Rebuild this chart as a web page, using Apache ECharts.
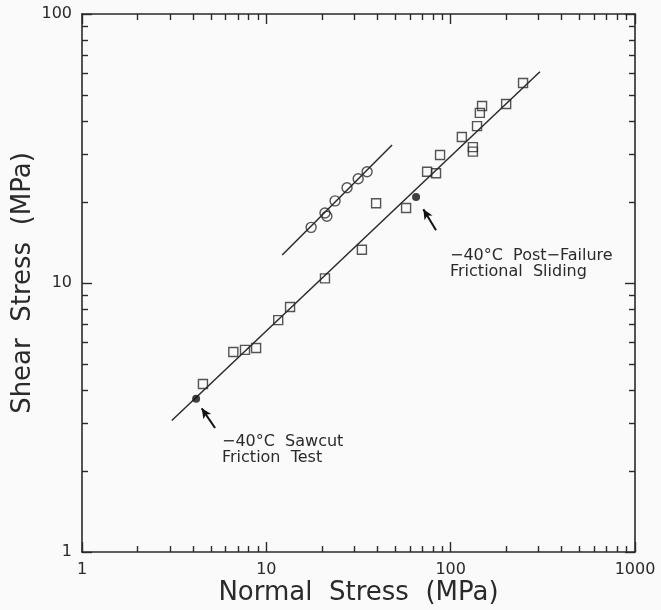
<!DOCTYPE html>
<html>
<head>
<meta charset="utf-8">
<title>Shear stress vs normal stress</title>
<script src="https://cdn.jsdelivr.net/npm/echarts@6/dist/echarts.min.js"></script>
<style>
html, body { margin: 0; padding: 0; background: #f9faf9; }
#main { width: 661px; height: 610px; }
</style>
</head>
<body>
<div id="main"></div>
<script>
// values (MPa)
var squareNormal = [4.53, 6.62, 7.66, 8.80, 11.6, 13.45, 20.8, 33.0, 39.4, 57.3, 74.5, 83.3, 87.6, 115, 132, 132, 139, 144, 148, 200, 247];
var squareShear  = [4.21, 5.54, 5.64, 5.73, 7.28, 8.14, 10.4, 13.3, 19.8, 19.0, 25.9, 25.6, 29.9, 34.9, 32.0, 30.8, 38.3, 42.9, 45.5, 46.3, 55.4];
var circleNormal = [17.5, 20.8, 21.3, 23.6, 27.4, 31.5, 35.2];
var circleShear  = [16.1, 18.2, 17.7, 20.2, 22.6, 24.4, 25.9];
var dotNormal = [4.16, 64.9];   // -40C sawcut, -40C post-failure
var dotShear  = [3.71, 20.9];
// fitted lines, end points
var lowerFitNormal = [3.07, 305];
var lowerFitShear  = [3.08, 61.0];
var upperFitNormal = [12.2, 48.1];
var upperFitShear  = [12.7, 32.6];
// ticks
var xMinorTicks = [2, 3, 4, 5, 6, 7, 8, 9, 20, 30, 40, 50, 60, 70, 80, 90, 200, 300, 400, 500, 600, 700, 800, 900];
var yMinorTicks = [2, 3, 4, 5, 6, 7, 8, 9, 20, 30, 40, 50, 60, 70, 80, 90];

function pairs(xs, ys) {
	var res = [];
	for (var i = 0; i < xs.length; i++) {
		res.push([xs[i], ys[i]]);
	}
	return res;
}

var ink = '#2a2a2a';
var font = 'DejaVu Sans';

// one axis builder, major or minor ticks only
function makeAxis(pos, minV, maxV, minor, ticks, main) {
	var ax = {
		type: 'log',
		logBase: 10,
		min: minV,
		max: maxV,
		position: pos,
		splitLine: { show: false },
		axisLine: { show: !minor, lineStyle: { color: ink, width: 1.6 } },
		axisTick: { show: true, inside: true, length: minor ? 6 : 10, lineStyle: { color: ink, width: 1.4 } },
		axisLabel: { show: false }
	};
	if (minor) {
		ax.axisTick.customValues = ticks;
	}
	if (main) {
		ax.axisLabel = {
			show: true, color: ink, fontFamily: font, fontSize: 16, margin: 10,
			formatter: function (v) { return String(v); }
		};
	}
	return ax;
}

var xAxes = [
	makeAxis('bottom', 1, 1000, false, null, true),
	makeAxis('bottom', 1, 1000, true, xMinorTicks, false),
	makeAxis('top', 1, 1000, false, null, false),
	makeAxis('top', 1, 1000, true, xMinorTicks, false)
];
xAxes[0].name = 'Normal  Stress  (MPa)';
xAxes[0].nameLocation = 'middle';
xAxes[0].nameGap = 28;
xAxes[0].nameMoveOverlap = false;
xAxes[0].nameTextStyle = { color: ink, fontFamily: font, fontSize: 26 };

var yAxes = [
	makeAxis('left', 1, 100, false, null, true),
	makeAxis('left', 1, 100, true, yMinorTicks, false),
	makeAxis('right', 1, 100, false, null, false),
	makeAxis('right', 1, 100, true, yMinorTicks, false)
];
yAxes[0].name = 'Shear  Stress  (MPa)';
yAxes[0].nameLocation = 'middle';
yAxes[0].nameGap = 46;
yAxes[0].nameMoveOverlap = false;
yAxes[0].nameTextStyle = { color: ink, fontFamily: font, fontSize: 26 };

var openStyle = { color: 'rgba(0,0,0,0)', borderColor: ink, borderWidth: 1.4 };

var option = {
	backgroundColor: '#f9faf9',
	animation: false,
	grid: { left: 82, right: 26, top: 14, bottom: 58, outerBoundsMode: 'none', containLabel: false },
	xAxis: xAxes,
	yAxis: yAxes,
	series: [{
		type: 'scatter',
		symbol: 'rect',
		symbolSize: 9,
		itemStyle: openStyle,
		data: pairs(squareNormal, squareShear)
	}, {
		type: 'scatter',
		symbol: 'circle',
		symbolSize: 10,
		itemStyle: openStyle,
		data: pairs(circleNormal, circleShear)
	}, {
		type: 'line',
		symbol: 'none',
		z: 3,
		lineStyle: { color: ink, width: 1.5 },
		data: pairs(lowerFitNormal, lowerFitShear)
	}, {
		type: 'line',
		symbol: 'none',
		z: 3,
		lineStyle: { color: ink, width: 1.5 },
		data: pairs(upperFitNormal, upperFitShear)
	}, {
		type: 'scatter',
		symbol: 'circle',
		symbolSize: 8,
		z: 4,
		itemStyle: { color: '#111' },
		data: pairs(dotNormal, dotShear),
		// arrows pointing at the two filled points
		markLine: {
			silent: true,
			symbol: ['none', 'arrow'],
			symbolSize: [7, 10],
			label: { show: false },
			lineStyle: { color: '#111', width: 2, type: 'solid' },
			data: [
				[{ coord: [5.27, 2.89] }, { coord: [4.46, 3.42] }],
				[{ coord: [83.3, 15.7] }, { coord: [71.1, 18.8] }]
			]
		}
	}],
	graphic: [{
		type: 'text',
		left: 222,
		top: 434,
		style: {
			text: '\u221240\u00b0C  Sawcut\nFriction  Test',
			fill: ink,
			font: '16px "DejaVu Sans"',
			lineHeight: 16
		}
	}, {
		type: 'text',
		left: 450,
		top: 248,
		style: {
			text: '\u221240\u00b0C  Post\u2212Failure\nFrictional  Sliding',
			fill: ink,
			font: '16px "DejaVu Sans"',
			lineHeight: 16
		}
	}]
};

var myChart = echarts.init(document.getElementById('main'));
myChart.setOption(option);
</script>
</body>
</html>
